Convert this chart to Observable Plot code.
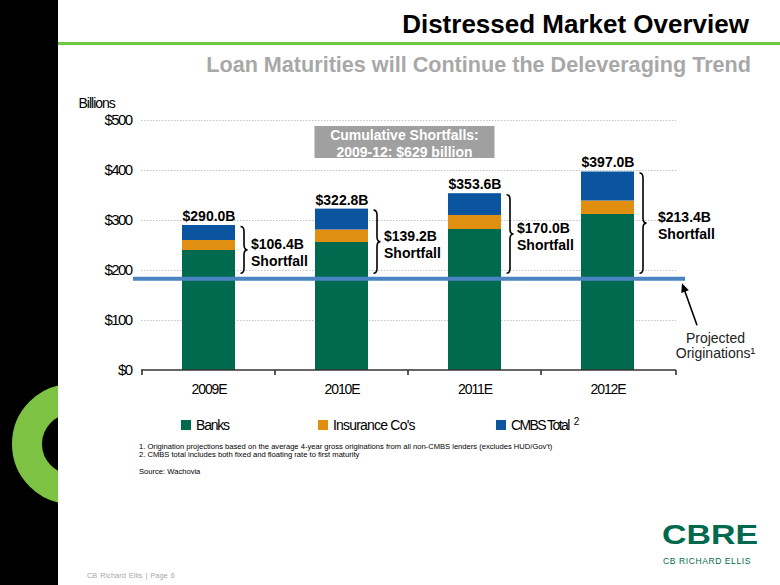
<!DOCTYPE html>
<html>
<head>
<meta charset="utf-8">
<script src="https://cdn.jsdelivr.net/npm/d3@7"></script>
<script src="https://cdn.jsdelivr.net/npm/@observablehq/plot@0.6"></script>
<style>
  html, body { margin: 0; padding: 0; background: #fff; }
  #page { position: relative; width: 780px; height: 585px; overflow: hidden; background: #fff;
          font-family: "Liberation Sans", Arial, Helvetica, sans-serif; }
  .abs { position: absolute; white-space: nowrap; }
  #strip { left: 0; top: 0; width: 58px; height: 585px; background: #000; overflow: hidden; }
  #ring { position: absolute; left: 12px; top: 384px; width: 120px; height: 120px; box-sizing: border-box;
          border: 30px solid #7dc242; border-radius: 50%; }
  #rule { left: 58px; top: 42px; width: 722px; height: 2.5px; background: #6cc83c; }
  #title { right: 31px; top: 11px; font-size: 26px; line-height: 26px; font-weight: bold; color: #000; }
  #subtitle { right: 29px; top: 54px; font-size: 21.6px; line-height: 22px; font-weight: bold; color: #a8a8a8; }
  #chart { position: absolute; left: 0; top: 0; }
  #chart svg { overflow: visible; }
  .sw { position: absolute; width: 10px; height: 10px; top: 420px; }
  .lg { position: absolute; top: 416px; height: 18px; line-height: 18px; font-size: 14px; letter-spacing: -1.2px; color: #000; white-space: nowrap; }
  .fn { position: absolute; left: 139px; height: 10px; line-height: 10px; font-size: 7.6px; color: #000; white-space: nowrap; }
  #footer { left: 87px; top: 571px; height: 10px; line-height: 10px; font-size: 7.4px; color: #a8a8a8; word-spacing: 1px; }
  #logo { left: 662px; top: 521px; font-size: 28px; line-height: 28px; font-weight: bold; color: #00694e;
          transform: scaleX(1.21); transform-origin: left center; }
  #logo2 { left: 663px; top: 556px; font-size: 8.5px; line-height: 10px; letter-spacing: 0.6px; color: #00694e; }
</style>
</head>
<body>
<div id="page">
  <div id="strip" class="abs"><div id="ring"></div></div>
  <div id="rule" class="abs"></div>
  <div id="title" class="abs">Distressed Market Overview</div>
  <div id="subtitle" class="abs">Loan Maturities will Continue the Deleveraging Trend</div>
  <div id="chart"></div>
  <div id="legend"></div>
  <div id="notes"></div>
  <div id="footer" class="abs">CB Richard Ellis | Page 6</div>
  <div id="logo" class="abs">CBRE</div>
  <div id="logo2" class="abs">CB RICHARD ELLIS</div>
</div>
<script>
// ---- data ----
const years = ["2009E", "2010E", "2011E", "2012E"];
const seriesNames = ["Banks", "Insurance Co's", "CMBS Total"];
const seriesColors = ["#006a4e", "#e08f10", "#0b55a0"];
const banks = [240, 256, 282, 312];
const insurance = [20, 25, 28, 27];
const cmbs = [30, 41.8, 43.6, 58];
const totals = [290.0, 322.8, 353.6, 397.0];
const shortfalls = [106.4, 139.2, 170.0, 213.4];
const origination = 183.6;
const yTicks = [0, 100, 200, 300, 400, 500];
const yTitle = "Billions";
const cumulativeText = ["Cumulative Shortfalls:", "2009-12: $629 billion"];
const footnotes = [
  "1. Origination projections based on the average 4-year gross originations from all non-CMBS lenders (excludes HUD/Gov't)",
  "2. CMBS total includes both fixed and floating rate to first maturity",
  "Source: Wachovia"
];

// ---- derived tables ----
const seriesValues = [banks, insurance, cmbs];
const rows = [];
years.forEach((yr, i) => seriesNames.forEach((s, j) => rows.push({year: yr, series: s, value: seriesValues[j][i]})));
const totalRows = years.map((yr, i) => ({year: yr, total: totals[i], shortfall: shortfalls[i]}));

const NS = "http://www.w3.org/2000/svg";
function annotations(index, scales, values, dimensions) {
  const {x, y} = scales;
  const bw = x.bandwidth(), step = x.step();
  const g = document.createElementNS(NS, "g");
  const add = (tag, attrs, text) => {
    const el = document.createElementNS(NS, tag);
    for (const k in attrs) el.setAttribute(k, attrs[k]);
    if (text != null) el.textContent = text;
    g.appendChild(el);
    return el;
  };
  const left = dimensions.marginLeft, right = dimensions.width - dimensions.marginRight;
  const top = dimensions.marginTop;
  const y0 = y(0);
  // x axis line and boundary ticks
  add("line", {x1: left, x2: right, y1: y0, y2: y0, stroke: "#333", "stroke-width": 1.6});
  const bounds = years.map(yr => x(yr) - (step - bw) / 2).concat([right]);
  bounds.forEach(b => add("line", {x1: b, x2: b, y1: y0, y2: y0 + 5, stroke: "#333", "stroke-width": 1.6}));
  // braces
  years.forEach((yr, i) => {
    const x0 = x(yr) + bw + 5.5, w = 7;
    const t = y(totals[i]) + 1.5, b = y(origination) - 5;
    const xm = x0 + w / 2, ym = (t + b) / 2, r = 5;
    const d = `M${x0},${t} Q${xm},${t} ${xm},${t + r} L${xm},${ym - r} Q${xm},${ym} ${x0 + w},${ym} ` +
              `Q${xm},${ym} ${xm},${ym + r} L${xm},${b - r} Q${xm},${b} ${x0},${b}`;
    add("path", {d, fill: "none", stroke: "#000", "stroke-width": 1.6});
  });
  // cumulative box
  const cx = (x(years[1]) + x(years[2]) + bw) / 2 - 3.5;
  add("rect", {x: cx - 90, y: top + 6, width: 180, height: 32, fill: "#a0a0a0"});
  cumulativeText.forEach((s, k) => add("text", {x: cx, y: top + 15 + k * 17, "text-anchor": "middle", dy: "0.35em",
    fill: "#fff", "font-weight": "bold", "font-size": 14}, s));
  // arrow to origination line
  const tipX = right + 6, tipY = y(origination) + 5;
  const tailX = tipX + 15, tailY = tipY + 42;
  const dx = tipX - tailX, dy = tipY - tailY, len = Math.hypot(dx, dy);
  const ux = dx / len, uy = dy / len, hl = 9, hw = 4;
  add("line", {x1: tailX, y1: tailY, x2: tipX - ux * hl * 0.8, y2: tipY - uy * hl * 0.8, stroke: "#000", "stroke-width": 1.6});
  const bx = tipX - ux * hl, by = tipY - uy * hl;
  add("path", {d: `M${tipX},${tipY} L${bx - uy * hw},${by + ux * hw} L${bx + uy * hw},${by - ux * hw} Z`, fill: "#000"});
  return g;
}

const chart = Plot.plot({
  width: 780,
  height: 585,
  marginLeft: 141,
  marginRight: 104,
  marginTop: 120,
  marginBottom: 215,
  x: {domain: years, paddingInner: 0.6, paddingOuter: 0.3, axis: null},
  y: {domain: [0, 500], axis: null},
  color: {domain: seriesNames, range: seriesColors},
  style: {fontFamily: "'Liberation Sans', Arial, sans-serif", fontSize: "14px", background: "transparent", overflow: "visible"},
  marks: [
    Plot.ruleY(yTicks.filter(v => v > 0), {stroke: "#c4c4c4", strokeDasharray: "1.5,1.5", strokeWidth: 1}),
    Plot.barY(rows, {x: "year", y: "value", fill: "series"}),
    Plot.ruleY([origination], {stroke: "#4a84c2", strokeWidth: 4, insetLeft: -8, insetRight: -9}),
    annotations,
    Plot.text(yTicks, {y: d => d, text: d => "$" + d, frameAnchor: "left", dx: -10, textAnchor: "end",
      fontSize: 15, fill: "#000"}),
    Plot.text([yTitle], {frameAnchor: "top-left", text: d => d, dx: -63, dy: -22, textAnchor: "start",
      fontSize: 14, fill: "#000"}),
    Plot.text(years, {x: d => d, text: d => d, frameAnchor: "bottom", dy: 23, fontSize: 14, fill: "#000"}),
    Plot.text(totalRows, {x: "year", y: "total", text: d => `$${d.total.toFixed(1)}B`, dy: -9,
      fontWeight: "bold", fontSize: 14, fill: "#000"}),
    Plot.text(totalRows.slice(0, 3), {x: "year", y: d => (d.total + origination) / 2,
      text: d => `$${d.shortfall.toFixed(1)}B\nShortfall`, dx: 42, textAnchor: "start",
      fontWeight: "bold", fontSize: 14, lineHeight: 1.2, fill: "#000"}),
    Plot.text(totalRows.slice(3), {x: "year", y: d => (d.total + origination) / 2,
      text: d => `$${d.shortfall.toFixed(1)}B\nShortfall`, dx: 50, textAnchor: "start",
      fontWeight: "bold", fontSize: 14, lineHeight: 1.15, fill: "#000"}),
    Plot.text([origination], {y: d => d, text: () => "Projected\nOriginations\u00B9", frameAnchor: "right",
      dx: 39, dy: 67, textAnchor: "middle", fontSize: 14, lineHeight: 1.08, fill: "#222"})
  ]
});
document.getElementById("chart").appendChild(chart);

// condensed look for axis labels (as in the original slide)
const condensed = new Map();
yTicks.forEach(v => condensed.set("$" + v, "-1.6px"));
years.forEach(v => condensed.set(v, "-1.1px"));
condensed.set(yTitle, "-1px");
chart.querySelectorAll("text").forEach(t => {
  const s = t.textContent.trim();
  if (condensed.has(s)) t.style.letterSpacing = condensed.get(s);
});

// ---- legend ----
const legendSwatchX = [181, 318, 496];
const legendSpacing = ["-1.2px", "-0.8px", "-1.6px"];
const legend = document.getElementById("legend");
seriesNames.forEach((s, i) => {
  const sw = document.createElement("div");
  sw.className = "sw";
  sw.style.left = legendSwatchX[i] + "px";
  sw.style.background = seriesColors[i];
  legend.appendChild(sw);
  const t = document.createElement("div");
  t.className = "lg";
  t.style.left = (legendSwatchX[i] + 15) + "px";
  t.style.letterSpacing = legendSpacing[i];
  t.textContent = s;
  if (i === 2) {
    const sup = document.createElement("span");
    sup.textContent = "2";
    sup.style.cssText = "font-size:10px;position:relative;top:-5px;margin-left:5px;letter-spacing:0";
    t.appendChild(sup);
  }
  legend.appendChild(t);
});

// ---- footnotes ----
const noteTops = [442, 450, 467];
const notes = document.getElementById("notes");
footnotes.forEach((f, i) => {
  const d = document.createElement("div");
  d.className = "fn";
  d.style.top = noteTops[i] + "px";
  d.textContent = f;
  notes.appendChild(d);
});
</script>
</body>
</html>
